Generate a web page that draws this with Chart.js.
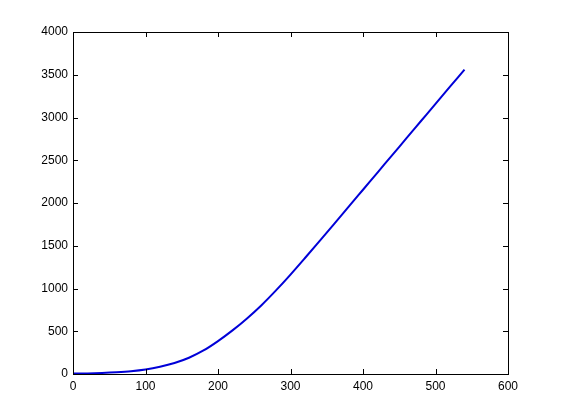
<!DOCTYPE html>
<html>
<head>
<meta charset="utf-8">
<script src="https://cdn.jsdelivr.net/npm/chart.js@4"></script>
<style>
  html, body { margin: 0; padding: 0; background: #fff; }
  #wrap { width: 561px; height: 420px; }
</style>
</head>
<body>
<div id="wrap"><canvas id="curveChart"></canvas></div>
<script>
const xValues = [0, 20, 40, 60, 80, 100, 120, 140, 160, 180, 200, 220, 240, 260, 280, 300, 320, 340, 360, 380, 400, 420, 440, 460, 480, 500, 520, 540];
const yValues = [5, 7, 12, 20, 32, 52, 84, 128, 190, 275, 385, 510, 650, 805, 978, 1163, 1357, 1555, 1754, 1954, 2155, 2356, 2557, 2758, 2959, 3160, 3360, 3560];
const xTicks = [0, 100, 200, 300, 400, 500, 600];
const yTicks = [0, 500, 1000, 1500, 2000, 2500, 3000, 3500, 4000];

// MATLAB style box axes: frame, inward ticks on all four sides
const boxAxes = {
  id: "boxAxes",
  afterDraw(chart) {
    const { ctx, chartArea: a, scales } = chart;
    const xs = scales.x, ys = scales.y;
    const tl = 5;
    ctx.save();
    ctx.strokeStyle = "#000";
    ctx.lineWidth = 1;
    ctx.strokeRect(Math.round(a.left) + 0.5, Math.round(a.top) + 0.5,
      Math.round(a.right - a.left), Math.round(a.bottom - a.top));
    ctx.fillStyle = "#000";
    ctx.font = "12px 'Liberation Sans', Arial, sans-serif";

    ctx.beginPath();
    xTicks.forEach(v => {
      const px = Math.round(xs.getPixelForValue(v)) + 0.5;
      ctx.moveTo(px, a.bottom); ctx.lineTo(px, a.bottom - tl);
      ctx.moveTo(px, a.top); ctx.lineTo(px, a.top + tl);
    });
    yTicks.forEach(v => {
      const py = Math.round(ys.getPixelForValue(v)) + 0.5;
      ctx.moveTo(a.left, py); ctx.lineTo(a.left + tl, py);
      ctx.moveTo(a.right, py); ctx.lineTo(a.right - tl, py);
    });
    ctx.stroke();

    ctx.textAlign = "center";
    ctx.textBaseline = "top";
    xTicks.forEach(v => {
      ctx.fillText(String(v), xs.getPixelForValue(v), a.bottom + 7);
    });
    ctx.textAlign = "right";
    ctx.textBaseline = "middle";
    yTicks.forEach(v => {
      ctx.fillText(String(v), a.left - 5, ys.getPixelForValue(v));
    });
    ctx.restore();
  }
};

new Chart(document.getElementById("curveChart"), {
  type: "line",
  data: {
    datasets: [{
      data: xValues.map((x, i) => ({ x, y: yValues[i] })),
      borderColor: "#0000d8",
      borderWidth: 2,
      pointRadius: 0,
      fill: false,
      cubicInterpolationMode: "monotone"
    }]
  },
  options: {
    responsive: true,
    maintainAspectRatio: false,
    animation: false,
    layout: { padding: { left: 73, right: 53, top: 32, bottom: 46 } },
    plugins: { legend: { display: false }, tooltip: { enabled: false } },
    scales: {
      x: { type: "linear", min: 0, max: 600, display: false },
      y: { type: "linear", min: 0, max: 4000, display: false }
    }
  },
  plugins: [boxAxes]
});
</script>
</body>
</html>
